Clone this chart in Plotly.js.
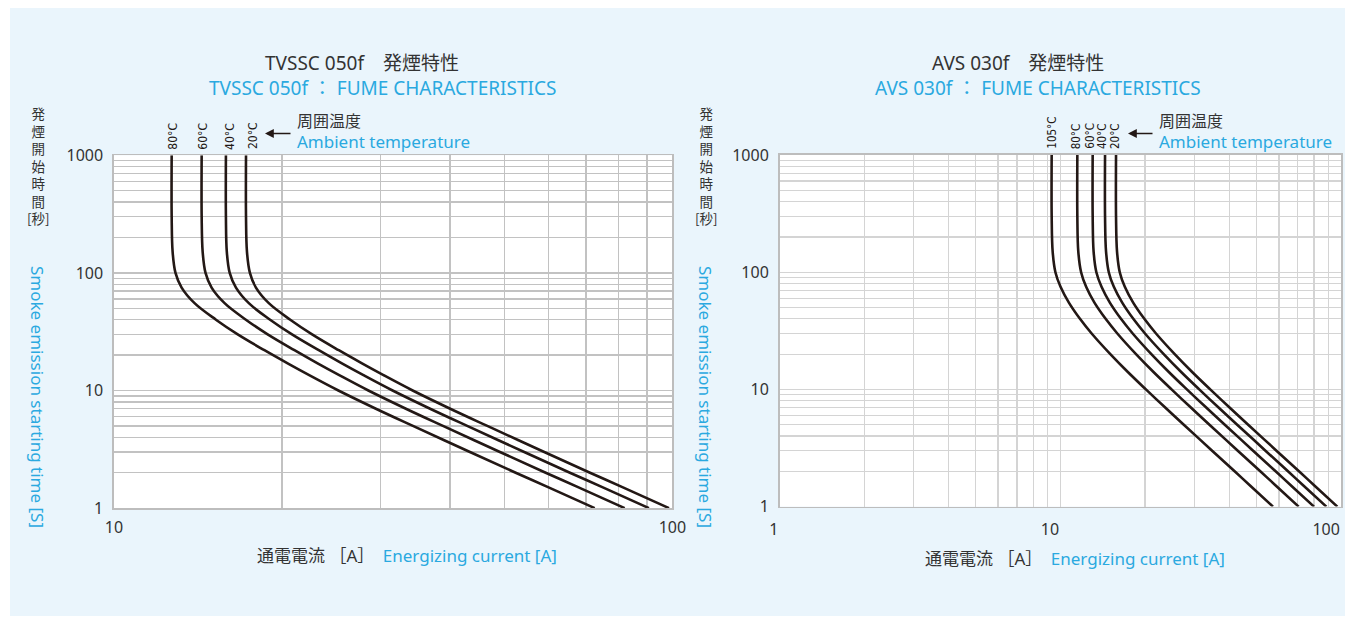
<!DOCTYPE html>
<html><head><meta charset="utf-8">
<script src="https://cdn.plot.ly/plotly-3.0.1.min.js"></script>
<style>
html,body{margin:0;padding:0;background:#ffffff;}
#bg{position:absolute;left:10px;top:8px;width:1335px;height:608px;background:#eaf5fc;}
#chart{position:absolute;left:0;top:0;width:1347px;height:617px;}
</style></head><body><div id="bg"></div><div id="chart"></div>
<script>
// ---------- data: left chart (TVSSC 050f) — smoke start time [s] vs current [A] ----------
const leftTemps = ['80°C', '60°C', '40°C', '20°C'];
const leftTime = [1000,300,150,100,75,55,40,30,22,17,13.5,10,7,5,3,2,1.5,1];
const leftI80 = [12.69,12.69,12.74,12.89,13.22,13.96,15.23,16.66,18.60,20.47,22.37,25.23,29.45,34.31,43.40,52.41,60.02,72.59];
const leftI60 = [14.36,14.36,14.42,14.59,14.96,15.80,17.23,18.85,21.05,23.16,25.32,28.55,33.33,38.83,49.11,59.31,67.92,82.14];
const leftI40 = [15.87,15.87,15.93,16.12,16.54,17.46,19.04,20.84,23.27,25.60,27.98,31.55,36.83,42.91,54.28,65.54,75.07,90.78];
const leftI20 = [17.24,17.24,17.31,17.52,17.96,18.96,20.69,22.64,25.27,27.81,30.39,34.27,40.01,46.62,58.96,71.20,81.55,98.61];

// ---------- data: right chart (AVS 030f) ----------
const rightTemps = ['105°C', '80°C', '60°C', '40°C', '20°C'];
const rightTime = [1000,300,150,100,75,55,40,30,20,14,10,7,5,3,2,1.5,1];
const rightI105 = [9.31,9.31,9.385,9.599,10.01,10.72,11.74,12.92,15.06,17.42,20.16,23.62,27.51,34.70,41.73,47.56,57.16];
const rightI80 = [11.49,11.49,11.58,11.85,12.35,13.22,14.49,15.95,18.59,21.50,24.88,29.15,33.95,42.82,51.50,58.69,70.55];
const rightI60 = [13.03,13.03,13.13,13.43,14.01,15.00,16.43,18.09,21.08,24.38,28.21,33.06,38.50,48.56,58.40,66.56,80.00];
const rightI40 = [14.42,14.42,14.54,14.87,15.50,16.60,18.18,20.01,23.33,26.98,31.22,36.58,42.61,53.74,64.63,73.66,88.54];
const rightI20 = [15.78,15.78,15.91,16.27,16.96,18.16,19.90,21.90,25.53,29.52,34.16,40.03,46.63,58.81,70.73,80.60,96.89];

// ---------- ticks ----------
const xTickValsLeft = [10,20,30,40,50,60,70,80,90,100];
const xTickTextLeft = ['10','','','','','','','','','100'];
const xTickValsRight = [1,2,3,4,5,6,7,8,9,10,20,30,40,50,60,70,80,90,100];
const xTickTextRight = ['1','','','','','','','','','10','','','','','','','','','100'];
const yTickVals = [1,2,3,4,5,6,7,8,9,10,20,30,40,50,60,70,80,90,100,200,300,400,500,600,700,800,900,1000];
const yTickText = ['1','','','','','','','','','10','','','','','','','','','100','','','','','','','','','1000'];

// ---------- texts ----------
const titleLeftJa = 'TVSSC 050f　発煙特性';
const titleLeftEn = 'TVSSC 050f ： FUME CHARACTERISTICS';
const titleRightJa = 'AVS 030f　発煙特性';
const titleRightEn = 'AVS 030f ： FUME CHARACTERISTICS';
const ambientJa = '周囲温度';
const ambientEn = 'Ambient temperature';
const yTitleJaLines = ['発','煙','開','始','時','間','[秒]'];
const yTitleEn = 'Smoke emission starting time [S]';
const xTitleJa = '通電電流 ［A］';
const xTitleEn = 'Energizing current [A]';

// ---------- layout helpers ----------
const W = 1347, H = 617;
const px = v => v / W;
const py = v => 1 - v / H;
const DARK = '#333333';
const CYAN = '#2aa9e0';
const CURVE = '#231815';
const FONT = '"Noto Sans", "Noto Sans CJK JP", sans-serif';
const JFONT = '"Noto Sans CJK JP", sans-serif';
const TFONT = '"DejaVu Sans Condensed", "Liberation Sans Narrow", sans-serif';

const leftSeries = [leftI80, leftI60, leftI40, leftI20];
const rightSeries = [rightI105, rightI80, rightI60, rightI40, rightI20];

const traces = [];
leftSeries.forEach((xs, i) => traces.push({
  x: xs, y: leftTime, xaxis: 'x', yaxis: 'y', type: 'scatter', mode: 'lines', name: leftTemps[i],
  line: {color: CURVE, width: 2.6, shape: 'spline', smoothing: 1}, hoverinfo: 'skip', showlegend: false
}));
rightSeries.forEach((xs, i) => traces.push({
  x: xs, y: rightTime, xaxis: 'x2', yaxis: 'y2', type: 'scatter', mode: 'lines', name: rightTemps[i],
  line: {color: CURVE, width: 2.6, shape: 'spline', smoothing: 1}, hoverinfo: 'skip', showlegend: false
}));

function axisBase(extra) {
  return Object.assign({
    type: 'log', showgrid: true, zeroline: false, showline: true, mirror: true,
    linecolor: '#bdbdbd', linewidth: 1.6, ticks: 'outside', tickcolor: 'rgba(0,0,0,0)',
    tickfont: {family: FONT, size: 16, color: DARK}, fixedrange: true
  }, extra);
}

const annotations = [];
function addText(x, y, text, size, color, opts) {
  annotations.push(Object.assign({xref: 'paper', yref: 'paper', x: px(x), y: py(y), text: text,
    showarrow: false, font: {family: FONT, size: size, color: color}, xanchor: 'center', yanchor: 'middle'}, opts || {}));
}
// titles
addText(362, 63, titleLeftJa, 19, DARK);
addText(382, 88, titleLeftEn, 19, CYAN);
addText(1018, 63, titleRightJa, 19, DARK);
addText(1038, 88, titleRightEn, 19, CYAN);
// ambient temperature notes
addText(295, 121, ambientJa, 16, DARK, {xanchor: 'left'});
addText(295, 141.5, ambientEn, 17, CYAN, {xanchor: 'left'});
addText(1157, 121, ambientJa, 16, DARK, {xanchor: 'left'});
addText(1157, 141.5, ambientEn, 17, CYAN, {xanchor: 'left'});
// arrows
[[265, 292], [1128, 1154]].forEach(a => annotations.push({
  xref: 'paper', yref: 'paper', axref: 'paper', ayref: 'paper',
  x: px(a[0]), y: py(133.5), ax: px(a[1]), ay: py(133.5), text: '', showarrow: true,
  arrowhead: 2, arrowsize: 1.1, arrowwidth: 1.6, arrowcolor: CURVE, standoff: 0, startstandoff: 0
}));
// y titles: vertical Japanese column + rotated English
[38, 706].forEach(cx => {
  addText(cx, 165.7, yTitleJaLines.join('<br>'), 13.5, DARK, {font: {family: JFONT, size: 13.5, color: DARK}});
  addText(cx, 397, yTitleEn, 17, CYAN, {textangle: 90});
});
// x titles
const xTitle = '<span style="color:' + DARK + '">' + xTitleJa + '</span>\u2002<span style="color:' + CYAN + '">' + xTitleEn + '</span>';
addText(407, 555, xTitle, 17, DARK);
addText(1075, 558, xTitle, 17, DARK);
// temperature labels above each curve's vertical asymptote
const leftShift = [1, 1, 4, 7];
leftSeries.forEach((xs, i) => annotations.push({
  xref: 'x', yref: 'paper', x: Math.log10(xs[0]), y: py(151.5), text: leftTemps[i], textangle: -90,
  showarrow: false, xanchor: 'center', yanchor: 'bottom', xshift: leftShift[i],
  font: {family: TFONT, size: 12, color: CURVE}
}));
const rightShift = [0, -1, -3, -3, -1];
rightSeries.forEach((xs, i) => annotations.push({
  xref: 'x2', yref: 'paper', x: Math.log10(xs[0]), y: py(151), text: rightTemps[i], textangle: -90,
  showarrow: false, xanchor: 'center', yanchor: 'bottom', xshift: rightShift[i],
  font: {family: TFONT, size: 11.5, color: CURVE}
}));

const layout = {
  width: W, height: H, margin: {l: 0, r: 0, t: 0, b: 0},
  paper_bgcolor: 'rgba(0,0,0,0)', plot_bgcolor: '#ffffff', showlegend: false,
  font: {family: FONT, color: DARK},
  xaxis: axisBase({domain: [px(113.9), px(672.4)], range: [1, 2], anchor: 'y',
    tickvals: xTickValsLeft, ticktext: xTickTextLeft, ticklen: 4, gridcolor: '#c2c2c2', gridwidth: 1.4}),
  yaxis: axisBase({domain: [py(508.1), py(155.3)], range: [0, 3], anchor: 'x',
    tickvals: yTickVals, ticktext: yTickText, ticklen: 6, gridcolor: '#c2c2c2', gridwidth: 1.4}),
  xaxis2: axisBase({domain: [px(779.6), px(1341.2)], range: [0, 2], anchor: 'y2',
    tickvals: xTickValsRight, ticktext: xTickTextRight, ticklen: 12, ticklabelstandoff: 8,
    gridcolor: '#d4d4d4', gridwidth: 1.2, ticklabelposition: 'outside left'}),
  yaxis2: axisBase({domain: [py(506.6), py(155)], range: [0, 3], anchor: 'x2',
    tickvals: yTickVals, ticktext: yTickText, ticklen: 6, gridcolor: '#d4d4d4', gridwidth: 1.2}),
  annotations: annotations
};

Plotly.newPlot('chart', traces, layout, {staticPlot: true, displayModeBar: false});
</script></body></html>
